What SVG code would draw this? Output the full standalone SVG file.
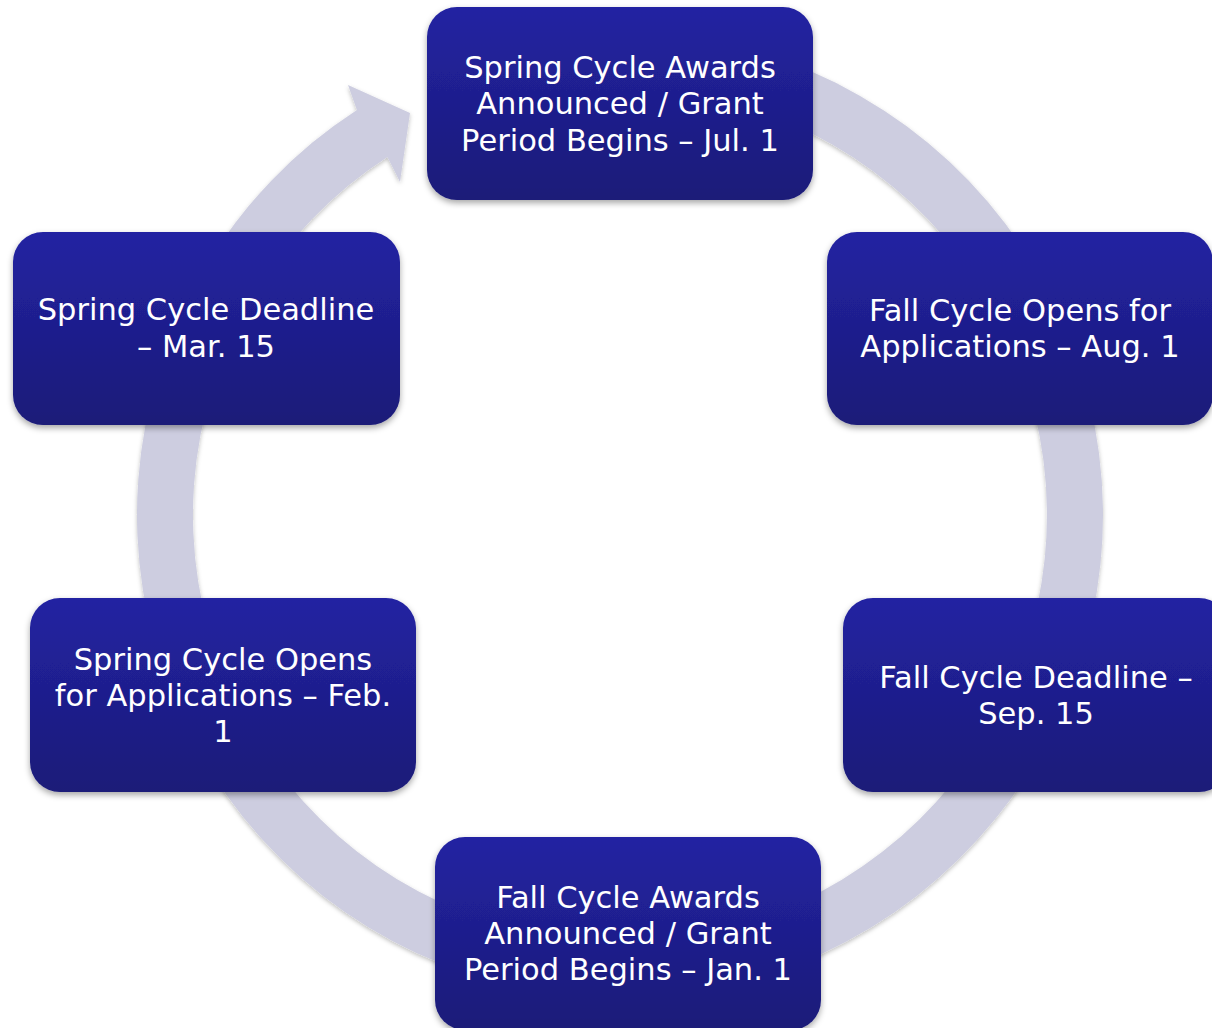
<svg xmlns="http://www.w3.org/2000/svg" width="1212" height="1028" viewBox="0 0 1212 1028">
<style>
.node rect{fill:url(#g);filter:url(#sh)}
.node text{font-family:"DejaVu Sans",sans-serif;font-size:30.5px;fill:#ffffff;text-anchor:middle}
.ring{fill:#cdcde0;filter:url(#sh2)}
</style>
<defs>
<linearGradient id="g" x1="0" y1="0" x2="0" y2="1">
<stop offset="0" stop-color="#2323a2"/>
<stop offset="1" stop-color="#1a1a78"/>
</linearGradient>
<filter id="sh" x="-10%" y="-10%" width="120%" height="130%">
<feDropShadow dx="0" dy="3" stdDeviation="3" flood-color="#000" flood-opacity="0.35"/>
</filter>
<filter id="sh2" x="-10%" y="-10%" width="120%" height="120%">
<feDropShadow dx="0" dy="2" stdDeviation="2" flood-color="#000" flood-opacity="0.25"/>
</filter>
</defs>
<rect width="1212" height="1028" fill="#ffffff"/>
<g id="connectors">
<path class="ring" d="M 703.9 39.3 A 483 483 0 1 1 356.9 109.9 L 348 85 L 410 113 L 400 182 L 387.4 156.9 A 427 427 0 1 0 694.1 94.5 Z"/>
</g>
<g id="n1" class="node">
<rect x="427" y="7" width="386" height="193" rx="30"/>
<text x="620" y="78">Spring Cycle Awards</text>
<text x="620" y="114">Announced / Grant</text>
<text x="620" y="151">Period Begins – Jul. 1</text>
</g>
<g id="n2" class="node">
<rect x="827" y="232" width="386" height="193" rx="30"/>
<text x="1020" y="321">Fall Cycle Opens for</text>
<text x="1020" y="357">Applications – Aug. 1</text>
</g>
<g id="n3" class="node">
<rect x="843" y="598" width="386" height="194" rx="30"/>
<text x="1036" y="688">Fall Cycle Deadline –</text>
<text x="1036" y="724">Sep. 15</text>
</g>
<g id="n4" class="node">
<rect x="435" y="837" width="386" height="193" rx="30"/>
<text x="628" y="908">Fall Cycle Awards</text>
<text x="628" y="944">Announced / Grant</text>
<text x="628" y="980">Period Begins – Jan. 1</text>
</g>
<g id="n5" class="node">
<rect x="30" y="598" width="386" height="194" rx="30"/>
<text x="223" y="670">Spring Cycle Opens</text>
<text x="223" y="706">for Applications – Feb.</text>
<text x="223" y="742">1</text>
</g>
<g id="n6" class="node">
<rect x="13" y="232" width="387" height="193" rx="30"/>
<text x="206" y="320">Spring Cycle Deadline</text>
<text x="206" y="357">– Mar. 15</text>
</g>
</svg>
